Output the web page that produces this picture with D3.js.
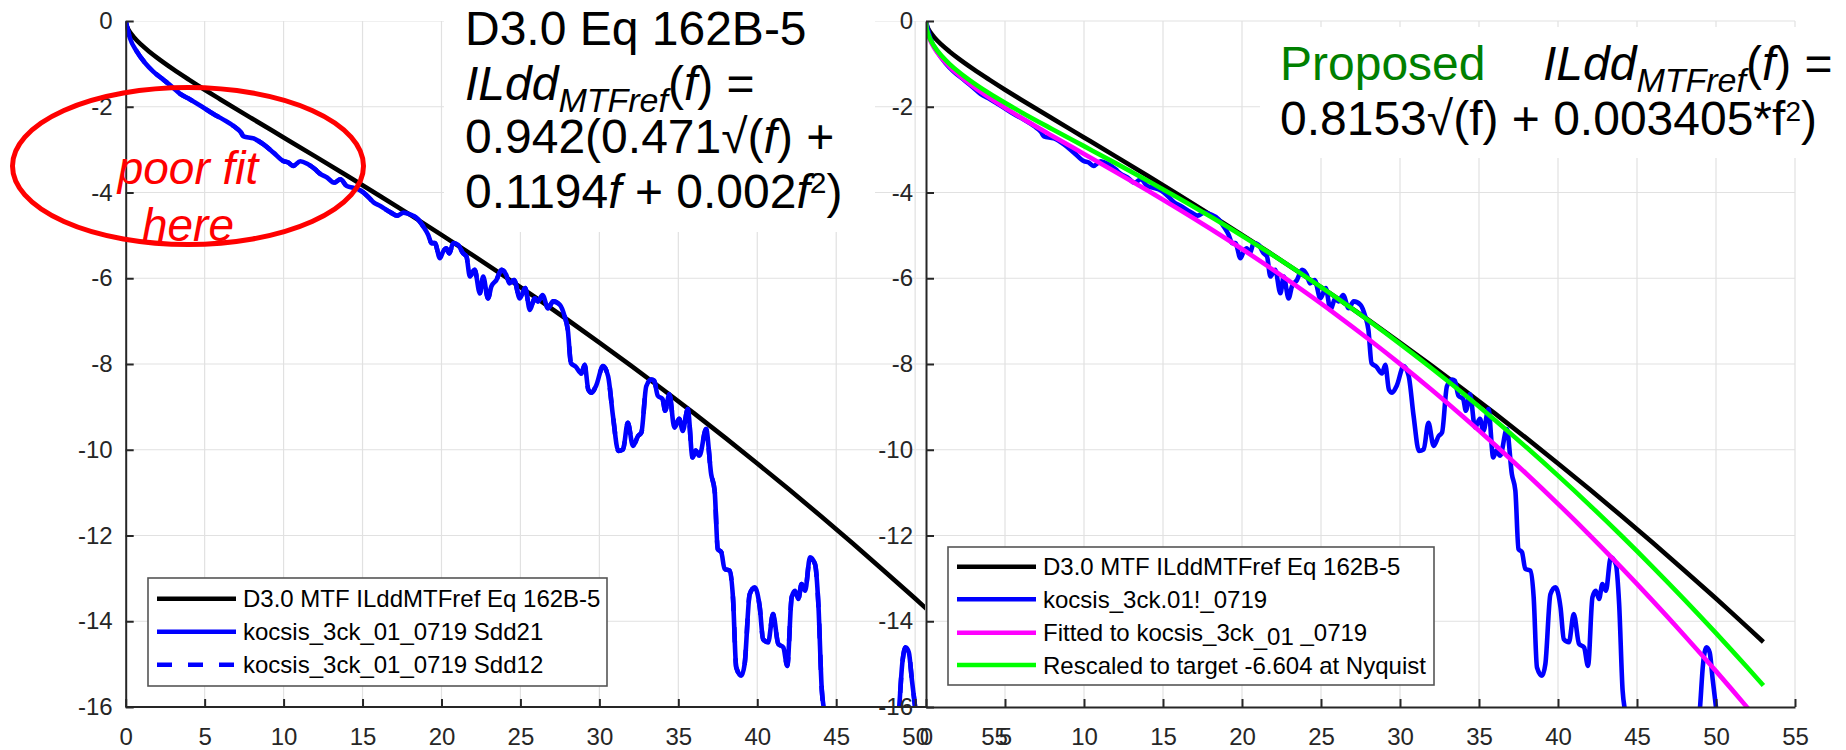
<!DOCTYPE html>
<html>
<head>
<meta charset="utf-8">
<script src="https://cdn.jsdelivr.net/npm/d3@7"></script>
<style>
  body { margin: 0; background: #fff; }
  svg text { font-family: "Liberation Sans", Arial, Helvetica, sans-serif; white-space: pre; }
</style>
</head>
<body>
<svg id="chart" width="1846" height="750"></svg>
<script>
// ---- Reference insertion-loss curves (dB) sampled over frequency (GHz) ----
const refFreq = [0, 0.02, 0.05, 0.1, 0.25, 0.5, 1, 1.5, 2, 3, 4, 5, 6, 8,
  10, 12, 14, 16, 18, 20, 22, 24, 26, 28, 30, 32, 34, 36, 38, 40, 42, 44, 46, 48, 50,
  51, 52, 53];
// D3.0 MTF ILddMTFref, Eq 162B-5
const ilddD30 = [0, -0.065, -0.105, -0.152, -0.250, -0.370, -0.558, -0.716, -0.860, -1.123, -1.367, -1.602, -1.829, -2.275,
  -2.716, -3.158, -3.604, -4.057, -4.517, -4.987, -5.467, -5.958, -6.460, -6.974, -7.500, -8.038, -8.589, -9.153, -9.730,
  -10.320, -10.923, -11.539, -12.170, -12.814, -13.471,
  -13.805, -14.142, -14.483];
// Proposed curve, rescaled to the target at Nyquist
const ilddProposed = [0, -0.115, -0.182, -0.258, -0.408, -0.577, -0.819, -1.006, -1.167, -1.443, -1.685, -1.908, -2.120, -2.524,
  -2.919, -3.315, -3.718, -4.133, -4.562, -5.008, -5.472, -5.956, -6.459, -6.984, -7.530, -8.099, -8.690, -9.305, -9.943,
  -10.604, -11.290, -12.000, -12.735, -13.494, -14.278,
  -14.679, -15.086, -15.500];
// Curve fitted to the measured channel
const ilddFitted = [0, -0.122, -0.193, -0.274, -0.433, -0.613, -0.870, -1.068, -1.239, -1.532, -1.789, -2.026, -2.251, -2.680,
  -3.100, -3.521, -3.949, -4.389, -4.845, -5.318, -5.811, -6.325, -6.859, -7.417, -7.997, -8.601, -9.229, -9.882, -10.559,
  -11.261, -11.990, -12.744, -13.525, -14.331, -15.163,
  -15.589, -16.021, -16.461];

// ---- Measured channel kocsis_3ck_01_0719 ----
const measFreq = [0, 0.27, 0.70, 1.23, 1.75, 2.39, 3.02, 3.45, 4.08, 4.71,
  5.56, 6.19, 6.83, 7.30, 7.46, 8.10, 8.73, 9.36, 10.0, 10.3,
  10.6, 11.06, 11.5, 12.0, 12.3, 12.75, 13.2, 13.6, 14.0, 14.4,
  14.9, 15.3, 15.7, 16.1, 16.8, 17.2, 17.6, 18.0, 18.5, 18.84,
  19.16, 19.37, 19.58, 19.9, 20.1, 20.3, 20.5, 20.74, 21.05, 21.37,
  21.58, 21.8, 22.0, 22.1, 22.43, 22.64, 22.95, 23.16, 23.48, 23.8,
  24.1, 24.3, 24.6, 24.96, 25.3, 25.6, 25.9, 26.1, 26.4, 26.75,
  27.07, 27.5, 27.8, 28.0, 28.2, 28.5, 28.86, 29.07, 29.3, 29.5,
  29.8, 30.23, 30.55, 30.86, 31.2, 31.5, 31.8, 32.13, 32.45, 32.66,
  32.97, 33.3, 33.47, 33.7, 34.0, 34.17, 34.43, 34.75, 35.06, 35.28,
  35.6, 35.9, 36.1, 36.34, 36.76, 37.08, 37.3, 37.5, 37.72, 37.93,
  38.25, 38.46, 38.67, 38.99, 39.2, 39.52, 39.84, 40.16, 40.37, 40.69,
  41.0, 41.33, 41.65, 41.9, 42.18, 42.39, 42.6, 42.81, 43.03, 43.34,
  43.66, 43.87, 44.09, 44.3, 44.6, 45.5, 46.5, 47.5, 48.6, 48.97,
  49.18, 49.4, 49.6, 49.8, 50.03, 50.3];
const sdd21 = [0, -0.40, -0.71, -0.98, -1.18, -1.37, -1.56, -1.70, -1.83, -1.97,
  -2.17, -2.30, -2.45, -2.60, -2.69, -2.74, -2.88, -3.07, -3.27, -3.30,
  -3.38, -3.27, -3.33, -3.46, -3.56, -3.65, -3.77, -3.69, -3.85, -3.89,
  -3.96, -4.08, -4.23, -4.31, -4.47, -4.54, -4.47, -4.51, -4.62, -4.79,
  -4.99, -5.18, -5.18, -5.53, -5.38, -5.30, -5.42, -5.18, -5.22, -5.42,
  -5.49, -5.96, -5.84, -5.80, -6.35, -5.96, -6.47, -6.19, -6.04, -5.80,
  -5.92, -6.12, -6.04, -6.47, -6.23, -6.74, -6.47, -6.54, -6.39, -6.70,
  -6.54, -6.62, -6.89, -7.20, -7.98, -8.06, -8.22, -8.02, -8.60, -8.67,
  -8.50, -8.05, -8.28, -9.21, -10.03, -9.99, -9.37, -9.91, -9.68, -9.60,
  -8.52, -8.36, -8.39, -8.74, -8.82, -9.09, -8.70, -9.48, -9.28, -9.56,
  -9.05, -10.18, -10.02, -10.14, -9.52, -10.57, -10.95, -12.32, -12.39, -12.78,
  -12.82, -13.44, -15.08, -15.27, -15.00, -13.37, -13.21, -13.68, -14.42, -14.49,
  -13.83, -14.53, -14.61, -15.04, -13.44, -13.29, -13.48, -13.13, -13.29, -12.51,
  -12.67, -13.60, -15.62, -16.20, -17.0, -17.0, -17.0, -17.0, -17.0, -16.10,
  -15.00, -14.61, -14.73, -15.39, -16.10, -17.0];
// Sdd12 of the reciprocal channel coincides with Sdd21
const sdd12 = sdd21;

// ---- Axis ticks ----
const yTickValues = [0, -2, -4, -6, -8, -10, -12, -14, -16];
const xTickLeft = [0, 5, 10, 15, 20, 25, 30, 35, 40, 45, 50, 55];
const xTickRight = [0, 5, 10, 15, 20, 25, 30, 35, 40, 45, 50, 55];

// ---- Legend entries ----
const legendLeftLabels = ["D3.0 MTF ILddMTFref Eq 162B-5", "kocsis_3ck_01_0719 Sdd21", "kocsis_3ck_01_0719 Sdd12"];
const legendRightLabels = ["D3.0 MTF ILddMTFref Eq 162B-5", "kocsis_3ck.01!_0719", "Fitted to kocsis_3ck", "Rescaled to target -6.604 at Nyquist"];

// ---------------------------------------------------------------------------
const svg = d3.select("#chart");
svg.append("rect").attr("width", 1846).attr("height", 750).attr("fill", "#fff");

const AX = "#262626", GRID = "#e1e1e1";
const LW = 4.6;

const yScale = d3.scaleLinear().domain([0, -16]).range([21, 707]);
const xLeft = d3.scaleLinear().domain([0, 55]).range([125.7, 994.1]);
const xRight = d3.scaleLinear().domain([0, 55]).range([926, 1795]);

const defs = svg.append("defs");
defs.append("clipPath").attr("id", "clipL").append("rect")
  .attr("x", 125.7).attr("y", 21).attr("width", 925 - 125.7).attr("height", 686);
defs.append("clipPath").attr("id", "clipR").append("rect")
  .attr("x", 926).attr("y", 21).attr("width", 869).attr("height", 686);

const refRows = refFreq.map((f, i) => ({ f, d30: ilddD30[i], prop: ilddProposed[i], fit: ilddFitted[i] }));
const measRows = measFreq.map((f, i) => ({ f, s21: sdd21[i], s12: sdd12[i] }));

function drawGrid(g, xs, xVals, xMax) {
  g.selectAll(".hg").data(yTickValues.filter(v => v > -16)).join("line")
    .attr("x1", xs(0)).attr("x2", xs(xMax))
    .attr("y1", d => yScale(d)).attr("y2", d => yScale(d))
    .attr("stroke", GRID).attr("stroke-width", 1.2);
  g.selectAll(".vg").data(xVals.filter(v => v > 0 && v <= xMax)).join("line")
    .attr("x1", d => xs(d)).attr("x2", d => xs(d))
    .attr("y1", yScale(0)).attr("y2", yScale(-16))
    .attr("stroke", GRID).attr("stroke-width", 1.2);
}

function curve(g, rows, xs, key, color, dash) {
  const line = d3.line().x(d => xs(d.f)).y(d => yScale(d[key])).curve(d3.curveMonotoneX);
  g.append("path").datum(rows).attr("d", line)
    .attr("fill", "none").attr("stroke", color).attr("stroke-width", LW)
    .attr("stroke-linejoin", "round")
    .attr("stroke-dasharray", dash || null);
}

function styleAxis(g) {
  g.selectAll(".domain").attr("stroke", AX).attr("stroke-width", 2);
  g.selectAll(".tick line").attr("stroke", AX).attr("stroke-width", 2);
  g.selectAll(".tick text").attr("fill", AX).attr("font-size", 24)
    .attr("font-family", "Liberation Sans, Arial, sans-serif");
}

// ================= Left panel =================
const left = svg.append("g");
drawGrid(left.append("g").attr("clip-path", "url(#clipL)"), xLeft, xTickLeft, 55);
const leftPlot = left.append("g").attr("clip-path", "url(#clipL)");
curve(leftPlot, refRows, xLeft, "d30", "#000");
curve(leftPlot, measRows, xLeft, "s21", "#0000ff");
curve(leftPlot, measRows, xLeft, "s12", "#0000ff", "15,16");

const lxAxis = left.append("g").attr("transform", "translate(0,707)")
  .call(d3.axisBottom(xLeft).tickValues(xTickLeft).tickSizeInner(-8).tickSizeOuter(0).tickPadding(21).tickFormat(d => String(d)));
lxAxis.select(".domain").remove();
lxAxis.selectAll(".tick").filter(d => d > 50).select("line").remove();
styleAxis(lxAxis);
left.append("line").attr("x1", xLeft(0)).attr("x2", 926).attr("y1", 707).attr("y2", 707)
  .attr("stroke", AX).attr("stroke-width", 2);
const lyAxis = left.append("g").attr("transform", "translate(125.7,0)")
  .call(d3.axisLeft(yScale).tickValues(yTickValues).tickSizeInner(-8).tickSizeOuter(0).tickPadding(13).tickFormat(d => String(d)));
styleAxis(lyAxis);

// ================= Right panel =================
const right = svg.append("g");
drawGrid(right, xRight, xTickRight, 55);
const rightPlot = right.append("g").attr("clip-path", "url(#clipR)");
curve(rightPlot, refRows, xRight, "d30", "#000");
curve(rightPlot, measRows, xRight, "s21", "#0000ff");
curve(rightPlot, refRows, xRight, "fit", "#ff00ff");
curve(rightPlot, refRows, xRight, "prop", "#00ff00");

const rxAxis = right.append("g").attr("transform", "translate(0,707)")
  .call(d3.axisBottom(xRight).tickValues(xTickRight).tickSizeInner(-8).tickSizeOuter(0).tickPadding(21).tickFormat(d => String(d)));
styleAxis(rxAxis);
const ryAxis = right.append("g").attr("transform", "translate(926,0)")
  .call(d3.axisLeft(yScale).tickValues(yTickValues).tickSizeInner(-8).tickSizeOuter(0).tickPadding(13).tickFormat(d => String(d)));
styleAxis(ryAxis);

// ================= Equation text boxes =================
function richText(x, y, parts, size, fill) {
  const t = svg.append("text").attr("x", x).attr("y", y)
    .attr("font-size", size).attr("fill", fill || "#000");
  parts.forEach(p => {
    const s = t.append("tspan").text(p.t);
    if (p.it) s.attr("font-style", "italic");
    if (p.size) s.attr("font-size", p.size);
    if (p.dy) s.attr("dy", p.dy);
    if (p.fill) s.attr("fill", p.fill);
  });
  return t;
}

svg.append("rect").attr("x", 444).attr("y", 0).attr("width", 431).attr("height", 232).attr("fill", "#fff");
richText(465, 45, [{ t: "D3.0 Eq 162B-5" }], 48);
richText(465, 100, [{ t: "ILdd", it: 1 }, { t: "MTFref", it: 1, size: 34, dy: 12 }, { t: "(", dy: -12 }, { t: "f", it: 1 }, { t: ") =" }], 48);
richText(465, 153, [{ t: "0.942(0.471\u221A(" }, { t: "f", it: 1 }, { t: ") +" }], 48);
richText(465, 208, [{ t: "0.1194" }, { t: "f", it: 1 }, { t: " + 0.002" }, { t: "f", it: 1 }, { t: "2", size: 30, dy: -15 }, { t: ")", dy: 15 }], 48);

svg.append("rect").attr("x", 1260).attr("y", 27).attr("width", 586).attr("height", 131).attr("fill", "#fff");
richText(1280, 80, [{ t: "Proposed" }], 48, "#008000");
richText(1543, 80, [{ t: "ILdd", it: 1 }, { t: "MTFref", it: 1, size: 34, dy: 12 }, { t: "(", dy: -12 }, { t: "f", it: 1 }, { t: ") =" }], 48);
richText(1280, 135, [{ t: "0.8153\u221A(f) + 0.003405*f" }, { t: "2", size: 28, dy: -14 }, { t: ")", dy: 14 }], 48);

// ================= Legends =================
function legend(x, y, w, h, rowY, entries) {
  const g = svg.append("g");
  g.append("rect").attr("x", x).attr("y", y).attr("width", w).attr("height", h)
    .attr("fill", "#fff").attr("stroke", "#555").attr("stroke-width", 1.6);
  entries.forEach((e, i) => {
    const cy = rowY[i];
    g.append("line").attr("x1", x + 9).attr("x2", x + 88).attr("y1", cy).attr("y2", cy)
      .attr("stroke", e.color).attr("stroke-width", LW).attr("stroke-dasharray", e.dash || null);
    const t = g.append("text").attr("x", x + 95).attr("y", cy + 8.5).attr("font-size", 24).attr("fill", "#000");
    e.parts.forEach(p => {
      const s = t.append("tspan").text(p.t);
      if (p.dy) s.attr("dy", p.dy);
    });
  });
}

legend(148, 578, 459, 108, [598.7, 631.7, 664.7], [
  { color: "#000", parts: [{ t: legendLeftLabels[0] }] },
  { color: "#0000ff", parts: [{ t: legendLeftLabels[1] }] },
  { color: "#0000ff", dash: "15,16", parts: [{ t: legendLeftLabels[2] }] }
]);
legend(948, 547, 486, 138, [566.7, 599.3, 632.7, 665], [
  { color: "#000", parts: [{ t: legendRightLabels[0] }] },
  { color: "#0000ff", parts: [{ t: legendRightLabels[1] }] },
  { color: "#ff00ff", parts: [{ t: legendRightLabels[2] }, { t: "_01", dy: 4 }, { t: " _0719", dy: -4 }] },
  { color: "#00ff00", parts: [{ t: legendRightLabels[3] }] }
]);

// ================= Annotation =================
svg.append("ellipse").attr("cx", 188).attr("cy", 166).attr("rx", 175.5).attr("ry", 78.5)
  .attr("fill", "none").attr("stroke", "#ff0000").attr("stroke-width", 5);
svg.append("text").attr("x", 188).attr("y", 184).attr("text-anchor", "middle")
  .attr("font-family", "'Open Sans', sans-serif").attr("font-style", "italic")
  .attr("font-size", 46).attr("fill", "#ff0000").text("poor fit");
svg.append("text").attr("x", 188).attr("y", 241).attr("text-anchor", "middle")
  .attr("font-family", "'Open Sans', sans-serif").attr("font-style", "italic")
  .attr("font-size", 46).attr("fill", "#ff0000").text("here");
</script>
</body>
</html>
